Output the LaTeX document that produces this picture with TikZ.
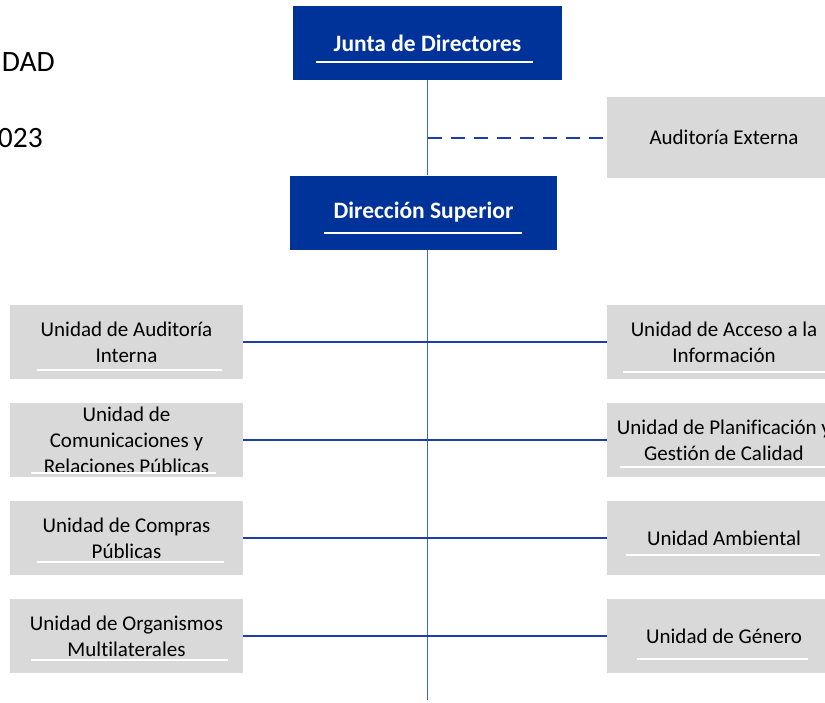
\documentclass[tikz,border=0pt]{standalone}
\usepackage{fontspec}
\setmainfont[RawFeature={-liga;-clig;-calt;-dlig}]{Carlito}
\definecolor{azul}{RGB}{0,51,153}
\definecolor{gris}{RGB}{217,217,217}
\definecolor{linea}{RGB}{30,60,170}
\definecolor{lineaclara}{RGB}{60,100,210}

\begin{document}
\begin{tikzpicture}[x=1pt,y=-1pt]

        \useasboundingbox (0,0) rectangle (825,702);

        \begin{scope}[every node/.style={anchor=base east, inner sep=0, font=\fontsize{29.5}{34}\selectfont}]
          \node (t1) at (55,71)  {DAD};
          \node (t2) at (43,147) {023};
        \end{scope}

        \begin{scope}[every node/.style={fill=azul, text=white, minimum height=74pt, font=\fontsize{23.5}{28}\selectfont\bfseries}]
          \node[minimum width=269pt] (jd) at (427.5,43)  {Junta de Directores};
          \node[minimum width=267pt] (ds) at (423.5,212.5) {Dirección Superior};
        \end{scope}

        \begin{scope}[every node/.style={fill=gris, inner sep=0, minimum width=233pt, minimum height=74pt, align=center, font=\fontsize{21}{26}\selectfont}]
          \node (l1) at (126.5,342) {Unidad de Auditoría\\Interna};
          \node (l2) at (126.5,440) {Unidad de\\Comunicaciones y\\Relaciones Públicas};
          \node (l3) at (126.5,538) {Unidad de Compras\\Públicas};
          \node (l4) at (126.5,636) {Unidad de Organismos\\Multilaterales};
          \node[minimum width=234pt, minimum height=81pt] (ae) at (724,137.5) {Auditoría Externa};
          \node[minimum width=234pt] (r1) at (724,342) {Unidad de Acceso a la\\Información};
          \node[minimum width=234pt] (r2) at (724,440) {Unidad de Planificación y\\Gestión de Calidad};
          \node[minimum width=234pt] (r3) at (724,538) {Unidad Ambiental};
          \node[minimum width=234pt] (r4) at (724,636) {Unidad de Género};
        \end{scope}

        \coordinate (fin) at (427.5,700);
        \coordinate (d) at (jd.south |- ae.west);

        \draw[lineaclara, line width=1pt] (jd.south) -- (jd.south |- ds.north);
        \draw[lineaclara, line width=1pt] (jd.south |- ds.south) -- (fin);
        \draw[linea, line width=2pt, dash pattern=on 14pt off 9pt] (d) -- (ae.west);

        \begin{scope}[every edge/.style={draw, linea, line width=1.8pt}]
          \path (l1) edge (r1);
          \path (l2) edge (r2);
          \path (l3) edge (r3);
          \path (l4) edge (r4);
        \end{scope}

        % white bars under the texts
        \begin{scope}[white, line width=2pt]
          \draw (316,62)  -- (533,62);
          \draw (324,233) -- (522,233);
          \draw (37,370)  -- (222,370);
          \draw (31,473)  -- (216,473);
          \draw (37,562)  -- (224,562);
          \draw (31,660)  -- (228,660);
          \draw (623,372) -- (841,372);
          \draw (620,467) -- (841,467);
          \draw (626,555) -- (820,555);
          \draw (637,659) -- (808,659);
        \end{scope}

      \end{tikzpicture}
\end{document}
